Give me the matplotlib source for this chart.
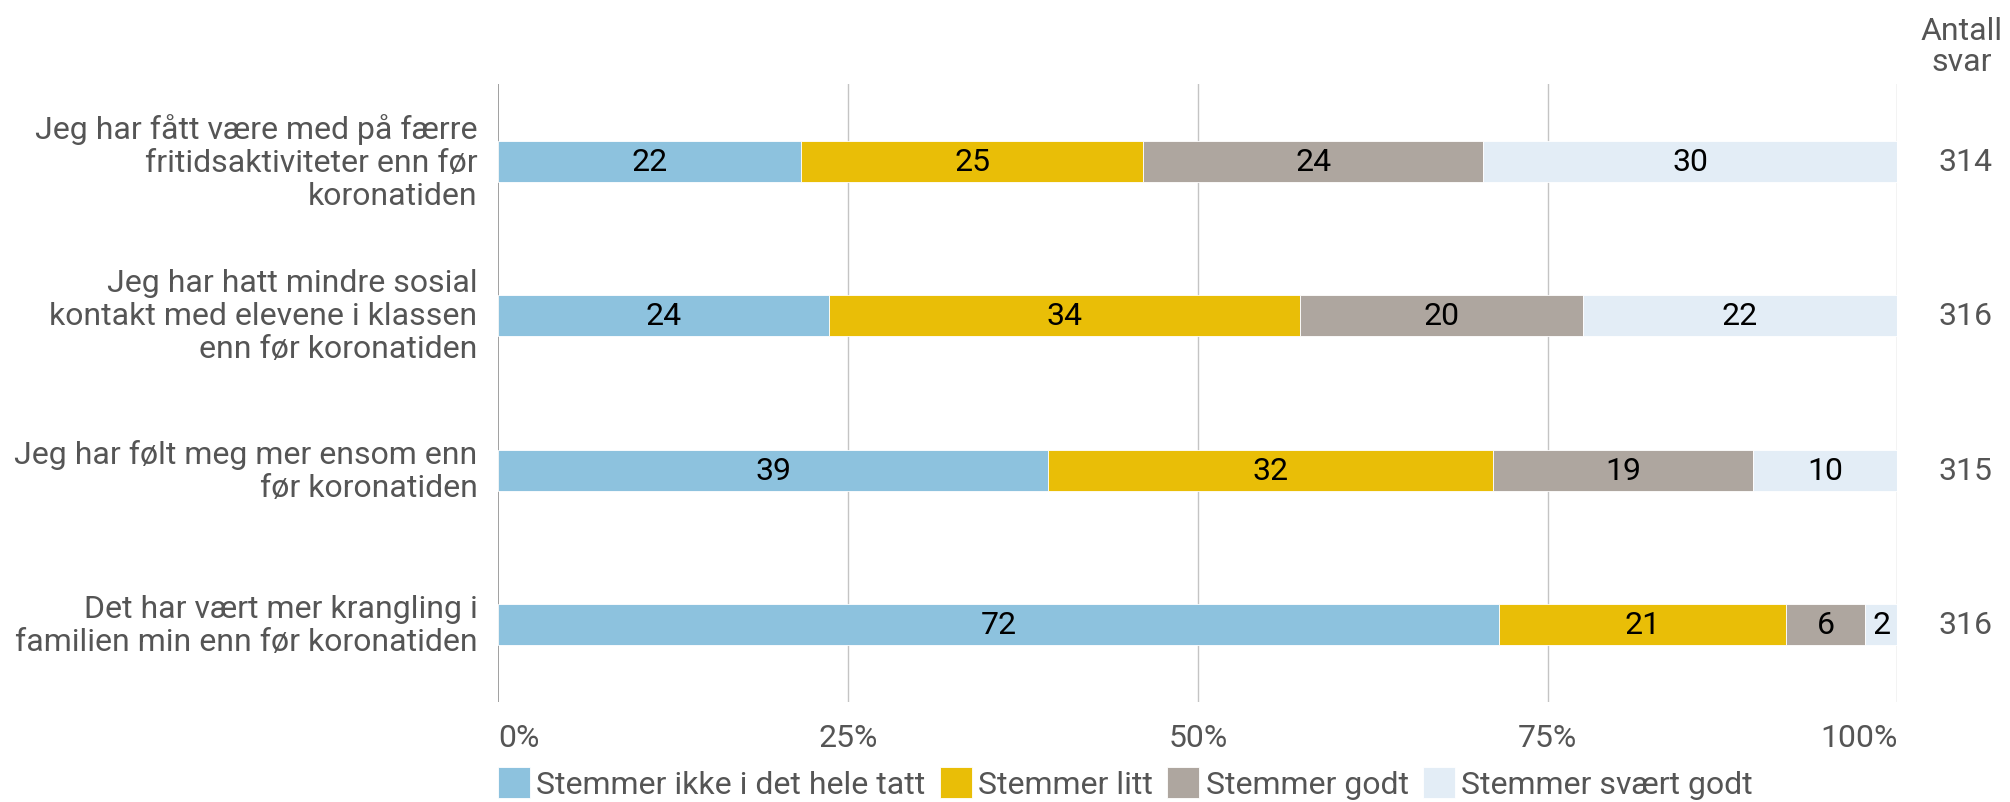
import numpy as np
import matplotlib
matplotlib.use("Agg")
import matplotlib.pyplot as plt
import matplotlib.transforms as mtransforms

plt.rcParams['font.family'] = ['Roboto', 'DejaVu Sans']

# data
statements = [
    "Jeg har fått være med på færre\nfritidsaktiviteter enn før\nkoronatiden",
    "Jeg har hatt mindre sosial\nkontakt med elevene i klassen\nenn før koronatiden",
    "Jeg har følt meg mer ensom enn\nfør koronatiden",
    "Det har vært mer krangling i\nfamilien min enn før koronatiden",
]
categories = ["Stemmer ikke i det hele tatt", "Stemmer litt", "Stemmer godt", "Stemmer svært godt"]
# percent shares
ikke = [21.6, 23.6, 39.3, 71.5]
litt = [24.5, 33.7, 31.8, 20.5]
godt = [24.3, 20.2, 18.6, 5.7]
svaert = [29.6, 22.5, 10.3, 2.3]
# printed (rounded) labels
labels_ikke = [22, 24, 39, 72]
labels_litt = [25, 34, 32, 21]
labels_godt = [24, 20, 19, 6]
labels_svaert = [30, 22, 10, 2]
antall = [314, 316, 315, 316]
xticks = [0, 25, 50, 75, 100]

colors = ["#8DC2DE", "#E9BE07", "#AEA69F", "#E3EDF6"]
txt_grey = "#555555"
fs = 23

fig = plt.figure(figsize=(20.10, 8.03), dpi=100)
ax = fig.add_axes([0.248, 0.1245, 0.696, 0.7695])

y = np.arange(len(statements))
series = [ikke, litt, godt, svaert]
series_labels = [labels_ikke, labels_litt, labels_godt, labels_svaert]
left = np.zeros(len(statements))
for vals, labs, col, name in zip(series, series_labels, colors, categories):
    vals = np.array(vals)
    bars = ax.barh(y, vals, left=left, height=0.265, color=col, label=name,
                   edgecolor="white", linewidth=0.6, zorder=3)
    for b, lab in zip(bars, labs):
        ax.text(b.get_x() + b.get_width() / 2, b.get_y() + b.get_height() / 2,
                str(lab), ha="center", va="center", fontsize=fs, color="black", zorder=4)
    left = left + vals

ax.set_xlim(0, 100)
ax.set_ylim(3.5, -0.5)
for s in ax.spines.values():
    s.set_visible(False)
ax.set_yticks([])
ax.set_xticks(xticks)
ax.set_xticklabels([f"{t}%" for t in xticks], fontsize=fs, color=txt_grey)
tl = ax.get_xticklabels()
tl[0].set_ha("left")
tl[-1].set_ha("right")
ax.tick_params(axis="x", length=0, pad=15)
for t in xticks:
    ax.axvline(t, color="#999999" if t == 0 else "#C4C4C4", lw=1.3 if t == 0 else 1.0, zorder=1)

# category labels
trans = mtransforms.offset_copy(ax.transData, fig=fig, x=-21, y=0, units="dots")
for yi, st in zip(y, statements):
    ax.text(0, yi, st, transform=trans, ha="right", va="center", fontsize=fs,
            color=txt_grey, linespacing=1.18)

# answer counts
tr_cnt = mtransforms.blended_transform_factory(fig.transFigure, ax.transData)
for yi, n in zip(y, antall):
    ax.text(1965 / 2010, yi, str(n), transform=tr_cnt, ha="center", va="center",
            fontsize=fs, color=txt_grey)
fig.text(1962 / 2010, 1 - 47 / 803, "Antall\nsvar", ha="center", va="center",
         fontsize=fs, color=txt_grey, linespacing=1.12)

leg = fig.legend(loc="center left", bbox_to_anchor=(485 / 2010, 1 - 784 / 803), ncol=4,
                 frameon=False, fontsize=fs, handlelength=1.0, handleheight=1.15,
                 handletextpad=0.2, columnspacing=0.45, labelcolor=txt_grey,
                 borderaxespad=0)

fig.savefig("out.png", dpi=100, facecolor="white")
